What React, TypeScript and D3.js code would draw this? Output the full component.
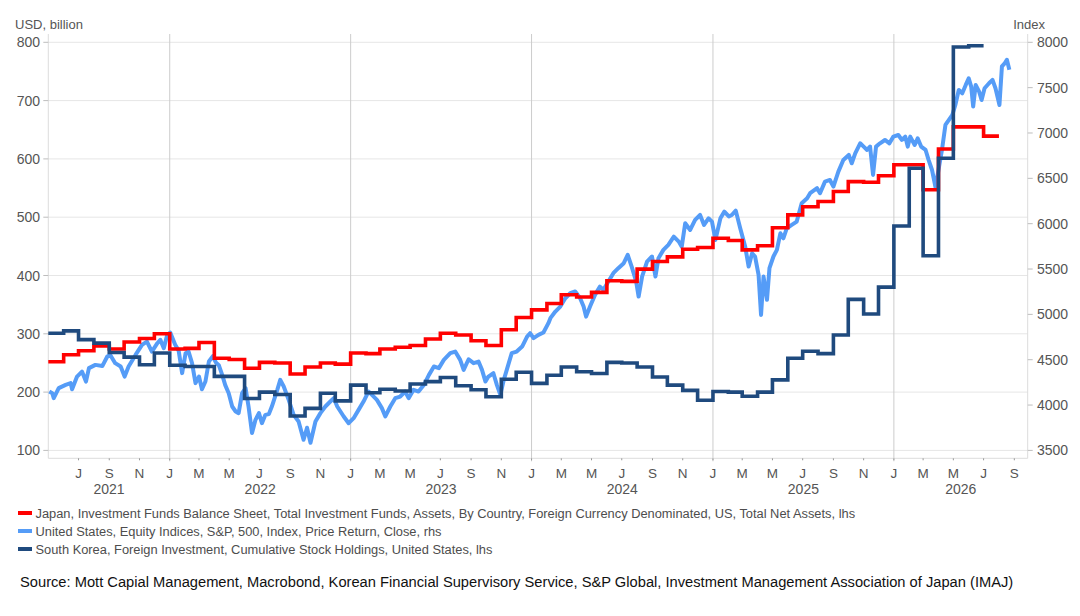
import React, { useEffect, useRef } from 'react';
import * as d3 from 'd3';

// monthly step series, first value is May 2021
const firstMonth = '2021-05-01';

const japanAssets = [
  252, 264, 271, 279, 274, 286, 292, 300,
  274, 275, 285, 258, 256, 241, 251, 250, 231, 243, 250, 248,
  267, 266, 274, 277, 280, 291, 301, 298, 288, 280, 307, 328,
  341, 352, 367, 363, 371, 391, 390, 411, 424, 432, 445, 448,
  464, 460, 444, 451, 482, 504, 518, 527, 544, 561, 560, 571,
  590, 590, 547, 617, 655, 655, 639,
];

const koreaHoldings = [
  301, 305, 290, 284, 268, 260, 247, 267,
  246, 244, 244, 227, 227, 189, 200, 196, 159, 172, 198, 185,
  212, 199, 205, 202, 214, 218, 225, 211, 204, 192, 222, 234,
  215, 229, 243, 235, 232, 251, 250, 243, 226, 212, 203, 186,
  201, 200, 193, 200, 221, 258, 270, 266, 298, 359, 334, 380,
  485, 584, 434, 601, 792, 794,
];

// S&P 500 close, rhs
const spx: [string, number][] = [
  ['2021-05-03', 4150], ['2021-05-09', 4131], ['2021-05-12', 4076], ['2021-05-22', 4187],
  ['2021-06-05', 4223], ['2021-06-15', 4242], ['2021-06-18', 4175], ['2021-06-28', 4314],
  ['2021-07-08', 4369], ['2021-07-16', 4259], ['2021-07-22', 4407], ['2021-08-04', 4443],
  ['2021-08-18', 4430], ['2021-08-28', 4535], ['2021-09-03', 4553], ['2021-09-13', 4462],
  ['2021-09-24', 4425], ['2021-10-02', 4314], ['2021-10-10', 4425], ['2021-10-24', 4553],
  ['2021-11-06', 4664], ['2021-11-16', 4700], ['2021-11-26', 4590], ['2021-12-07', 4682],
  ['2021-12-13', 4719], ['2021-12-20', 4627], ['2021-12-27', 4774], ['2022-01-02', 4799],
  ['2022-01-12', 4664], ['2022-01-19', 4600], ['2022-01-26', 4352], ['2022-02-02', 4572],
  ['2022-02-08', 4590], ['2022-02-15', 4462], ['2022-02-22', 4242], ['2022-03-01', 4314],
  ['2022-03-07', 4175], ['2022-03-14', 4260], ['2022-03-21', 4480], ['2022-03-29', 4540],
  ['2022-04-04', 4470], ['2022-04-10', 4440], ['2022-04-17', 4330], ['2022-04-23', 4220],
  ['2022-04-30', 4131], ['2022-05-07', 3984], ['2022-05-14', 3929], ['2022-05-20', 3911],
  ['2022-05-27', 4131], ['2022-06-03', 4187], ['2022-06-09', 3984], ['2022-06-16', 3691],
  ['2022-06-23', 3837], ['2022-06-30', 3911], ['2022-07-06', 3800], ['2022-07-13', 3892],
  ['2022-07-20', 3900], ['2022-07-26', 3984], ['2022-08-06', 4168], ['2022-08-12', 4278],
  ['2022-08-19', 4205], ['2022-08-29', 4057], ['2022-09-08', 3892], ['2022-09-18', 3819],
  ['2022-09-28', 3617], ['2022-10-05', 3750], ['2022-10-12', 3585], ['2022-10-22', 3818],
  ['2022-11-01', 3911], ['2022-11-11', 3984], ['2022-11-21', 4039], ['2022-11-28', 4076],
  ['2022-12-05', 3984], ['2022-12-18', 3874], ['2022-12-28', 3800], ['2023-01-07', 3855],
  ['2023-01-17', 3947], ['2023-01-27', 4039], ['2023-02-06', 4149], ['2023-02-13', 4112],
  ['2023-02-23', 4057], ['2023-03-05', 3966], ['2023-03-12', 3874], ['2023-03-22', 3984],
  ['2023-04-01', 4076], ['2023-04-11', 4094], ['2023-04-21', 4149], ['2023-04-28', 4076],
  ['2023-05-08', 4168], ['2023-05-18', 4149], ['2023-05-29', 4223], ['2023-06-08', 4333],
  ['2023-06-18', 4425], ['2023-06-28', 4407], ['2023-07-08', 4498], ['2023-07-21', 4572],
  ['2023-07-31', 4590], ['2023-08-10', 4498], ['2023-08-17', 4388], ['2023-08-27', 4505],
  ['2023-09-06', 4462], ['2023-09-16', 4480], ['2023-09-23', 4388], ['2023-09-30', 4259],
  ['2023-10-06', 4314], ['2023-10-16', 4351], ['2023-10-23', 4223], ['2023-10-30', 4113],
  ['2023-11-06', 4278], ['2023-11-12', 4388], ['2023-11-22', 4572], ['2023-12-02', 4590],
  ['2023-12-13', 4645], ['2023-12-23', 4755], ['2023-12-29', 4792], ['2024-01-05', 4737],
  ['2024-01-15', 4774], ['2024-01-25', 4800], ['2024-02-04', 4903], ['2024-02-08', 4958],
  ['2024-02-18', 5031], ['2024-02-28', 5086], ['2024-03-09', 5178], ['2024-03-19', 5233],
  ['2024-03-29', 5252], ['2024-04-08', 5178], ['2024-04-15', 5086], ['2024-04-20', 4975],
  ['2024-04-28', 5086], ['2024-05-08', 5215], ['2024-05-18', 5306], ['2024-05-25', 5270],
  ['2024-06-04', 5362], ['2024-06-14', 5454], ['2024-06-24', 5509], ['2024-07-05', 5564],
  ['2024-07-13', 5656], ['2024-07-21', 5527], ['2024-07-30', 5362], ['2024-08-04', 5196],
  ['2024-08-11', 5417], ['2024-08-21', 5582], ['2024-08-31', 5638], ['2024-09-07', 5417],
  ['2024-09-13', 5619], ['2024-09-23', 5711], ['2024-10-03', 5766], ['2024-10-14', 5858],
  ['2024-10-24', 5803], ['2024-10-30', 5747], ['2024-11-06', 6004], ['2024-11-16', 5931],
  ['2024-11-26', 6041], ['2024-12-06', 6096], ['2024-12-14', 5986], ['2024-12-23', 6059],
  ['2024-12-30', 6023], ['2025-01-06', 5821], ['2025-01-16', 6059], ['2025-01-24', 6133],
  ['2025-02-02', 6080], ['2025-02-08', 6096], ['2025-02-16', 6144], ['2025-02-25', 5950],
  ['2025-03-07', 5747], ['2025-03-14', 5527], ['2025-03-21', 5674], ['2025-03-27', 5638],
  ['2025-04-03', 5435], ['2025-04-08', 4994], ['2025-04-13', 5417], ['2025-04-20', 5160],
  ['2025-04-25', 5509], ['2025-05-03', 5638], ['2025-05-10', 5711], ['2025-05-17', 5894],
  ['2025-05-23', 5839], ['2025-05-30', 5950], ['2025-06-09', 5986], ['2025-06-19', 6023],
  ['2025-06-29', 6225], ['2025-07-10', 6280], ['2025-07-16', 6336], ['2025-07-30', 6391],
  ['2025-08-05', 6336], ['2025-08-15', 6464], ['2025-08-25', 6482], ['2025-09-01', 6409],
  ['2025-09-11', 6574], ['2025-09-21', 6703], ['2025-10-02', 6758], ['2025-10-08', 6666],
  ['2025-10-15', 6776], ['2025-10-25', 6886], ['2025-11-01', 6850], ['2025-11-08', 6813],
  ['2025-11-14', 6850], ['2025-11-20', 6538], ['2025-11-26', 6850], ['2025-12-04', 6886],
  ['2025-12-14', 6923], ['2025-12-23', 6886], ['2025-12-31', 6960], ['2026-01-10', 6978],
  ['2026-01-17', 6923], ['2026-01-24', 6960], ['2026-01-29', 6850], ['2026-02-03', 6960],
  ['2026-02-12', 6868], ['2026-02-18', 6941], ['2026-02-25', 6850], ['2026-03-06', 6813],
  ['2026-03-12', 6703], ['2026-03-19', 6592], ['2026-03-26', 6400], ['2026-04-01', 6592],
  ['2026-04-08', 6813], ['2026-04-15', 7089], ['2026-04-22', 7144], ['2026-04-29', 7199],
  ['2026-05-05', 7309], ['2026-05-12', 7475], ['2026-05-19', 7438], ['2026-05-26', 7530],
  ['2026-06-01', 7603], ['2026-06-06', 7512], ['2026-06-10', 7291], ['2026-06-15', 7530],
  ['2026-06-22', 7456], ['2026-06-27', 7364], ['2026-07-03', 7493], ['2026-07-12', 7548],
  ['2026-07-19', 7585], ['2026-07-25', 7493], ['2026-07-29', 7401], ['2026-08-02', 7309],
  ['2026-08-07', 7734], ['2026-08-13', 7771], ['2026-08-17', 7807], ['2026-08-22', 7697],
];

const leftTicks = [100, 200, 300, 400, 500, 600, 700, 800];
const rightTicks = [3500, 4000, 4500, 5000, 5500, 6000, 6500, 7000, 7500, 8000];
const years = [2021, 2022, 2023, 2024, 2025, 2026];

const legendItems = [
  { label: 'Japan, Investment Funds Balance Sheet, Total Investment Funds, Assets, By Country, Foreign Currency Denominated, US, Total Net Assets, lhs', color: '#ff0000' },
  { label: 'United States, Equity Indices, S&P, 500, Index, Price Return, Close, rhs', color: '#559cf7' },
  { label: 'South Korea, Foreign Investment, Cumulative Stock Holdings, United States, lhs', color: '#1f4a7e' },
];
const sourceText = 'Source: Mott Capial Management, Macrobond, Korean Financial Supervisory Service, S&P Global, Investment Management Association of Japan (IMAJ)';

const font = '"Liberation Sans", Arial, Helvetica, sans-serif';

export default function App() {
  const svgRef = useRef<SVGSVGElement | null>(null);

  useEffect(() => {
    if (!svgRef.current) return;
    const svg = d3.select(svgRef.current);
    svg.selectAll('*').remove();

    const left = 48.3, right = 1027.7, top = 34, bottom = 458.3;
    const parse = d3.utcParse('%Y-%m-%d');

    const x = d3.scaleUtc()
      .domain([new Date(Date.UTC(2021, 4, 1)), new Date(Date.UTC(2026, 8, 28))])
      .range([left, right]);
    const yL = d3.scaleLinear().domain([100, 800]).range([450.4, 42.3]);
    const yR = d3.scaleLinear().domain([3500, 8000]).range([450.4, 42.3]);

    svg.append('rect').attr('width', 1080).attr('height', 616).attr('fill', '#fff');

    // horizontal grid (lhs)
    svg.append('g').selectAll('line').data(leftTicks).join('line')
      .attr('x1', left).attr('x2', right)
      .attr('y1', d => yL(d)).attr('y2', d => yL(d))
      .attr('stroke', '#e6e6e6').attr('stroke-width', 1);

    // year separators
    const yearStarts = d3.utcYear.range(new Date(Date.UTC(2022, 0, 1)), new Date(Date.UTC(2026, 6, 1)));
    svg.append('g').selectAll('line').data(yearStarts).join('line')
      .attr('x1', d => x(d)).attr('x2', d => x(d))
      .attr('y1', top).attr('y2', bottom + 3)
      .attr('stroke', '#cccccc').attr('stroke-width', 1);

    // frame
    const frame = svg.append('g').attr('stroke', '#dcdcdc').attr('stroke-width', 1);
    frame.append('line').attr('x1', left).attr('x2', left).attr('y1', top).attr('y2', bottom);
    frame.append('line').attr('x1', left).attr('x2', right).attr('y1', bottom).attr('y2', bottom);
    frame.append('line').attr('x1', right).attr('x2', right).attr('y1', top).attr('y2', bottom);

    // left axis
    const gl = svg.append('g').attr('font-family', font).attr('font-size', 14).attr('fill', '#555');
    gl.selectAll('line').data(leftTicks).join('line')
      .attr('x1', left - 5).attr('x2', left).attr('y1', d => yL(d)).attr('y2', d => yL(d))
      .attr('stroke', '#bdbdbd');
    gl.selectAll('text').data(leftTicks).join('text')
      .attr('x', 40).attr('y', d => yL(d)).attr('dy', '0.36em').attr('text-anchor', 'end')
      .text(d => d);

    // right axis
    const gr = svg.append('g').attr('font-family', font).attr('font-size', 14).attr('fill', '#555');
    gr.selectAll('line').data(rightTicks).join('line')
      .attr('x1', right).attr('x2', right + 5).attr('y1', d => yR(d)).attr('y2', d => yR(d))
      .attr('stroke', '#bdbdbd');
    gr.selectAll('text').data(rightTicks).join('text')
      .attr('x', 1037).attr('y', d => yR(d)).attr('dy', '0.36em')
      .text(d => d);

    svg.append('text').attr('x', 15).attr('y', 29).attr('font-family', font).attr('font-size', 13)
      .attr('fill', '#555').text('USD, billion');
    svg.append('text').attr('x', 1045).attr('y', 29).attr('font-family', font).attr('font-size', 13)
      .attr('fill', '#555').attr('text-anchor', 'end').text('Index');

    // x axis: month letters every two months, year labels centred
    const months = d3.utcMonth.every(2)!.range(new Date(Date.UTC(2021, 5, 15)), x.domain()[1]);
    const gx = svg.append('g').attr('font-family', font).attr('fill', '#555');
    gx.selectAll('line').data(months).join('line')
      .attr('x1', d => x(d)).attr('x2', d => x(d)).attr('y1', bottom).attr('y2', bottom + 2)
      .attr('stroke', '#999');
    gx.selectAll('text.m').data(months).join('text').attr('class', 'm')
      .attr('x', d => x(d)).attr('y', 478).attr('text-anchor', 'middle').attr('font-size', 13.5)
      .text(d => d3.utcFormat('%b')(d)[0]);
    gx.selectAll('text.y').data(years).join('text').attr('class', 'y')
      .attr('x', d => {
        const a = Math.max(x.domain()[0].getTime(), Date.UTC(d, 0, 1));
        const b = Math.min(x.domain()[1].getTime(), Date.UTC(d + 1, 0, 1));
        return (x(new Date(a)) + x(new Date(b))) / 2;
      })
      .attr('y', 494).attr('text-anchor', 'middle').attr('font-size', 14)
      .text(d => d);

    // series
    const start = parse(firstMonth)!;
    const stepPoints = (vals: number[]) => {
      const pts = vals.map((v, i) => ({ date: d3.utcMonth.offset(start, i), v }));
      pts.push({ date: d3.utcMonth.offset(start, vals.length), v: vals[vals.length - 1] });
      return pts;
    };
    const stepLine = d3.line<{ date: Date; v: number }>()
      .x(d => x(d.date)).y(d => yL(d.v)).curve(d3.curveStepAfter);
    const spxLine = d3.line<[string, number]>()
      .x(d => x(parse(d[0])!)).y(d => yR(d[1]));

    svg.append('path').datum(spx).attr('d', spxLine)
      .attr('fill', 'none').attr('stroke', legendItems[1].color).attr('stroke-width', 4)
      .attr('stroke-linejoin', 'round');
    svg.append('path').datum(stepPoints(japanAssets)).attr('d', stepLine)
      .attr('fill', 'none').attr('stroke', legendItems[0].color).attr('stroke-width', 3.6);
    svg.append('path').datum(stepPoints(koreaHoldings)).attr('d', stepLine)
      .attr('fill', 'none').attr('stroke', legendItems[2].color).attr('stroke-width', 3.6);

    // legend
    const lg = svg.append('g').attr('font-family', font).attr('font-size', 12.85).attr('fill', '#4d4d4d');
    legendItems.forEach((item, i) => {
      const cy = 513 + i * 18;
      lg.append('line').attr('x1', 18).attr('x2', 32).attr('y1', cy).attr('y2', cy)
        .attr('stroke', item.color).attr('stroke-width', 4);
      lg.append('text').attr('x', 35.5).attr('y', cy).attr('dy', '0.36em').text(item.label);
    });

    svg.append('text').attr('x', 20).attr('y', 582).attr('dy', '0.36em')
      .attr('font-family', font).attr('font-size', 14.7).attr('fill', '#111')
      .text(sourceText);
  }, []);

  return (
    <svg ref={svgRef} width={1080} height={616}
      style={{ position: 'absolute', left: 0, top: 0, display: 'block' }} />
  );
}
